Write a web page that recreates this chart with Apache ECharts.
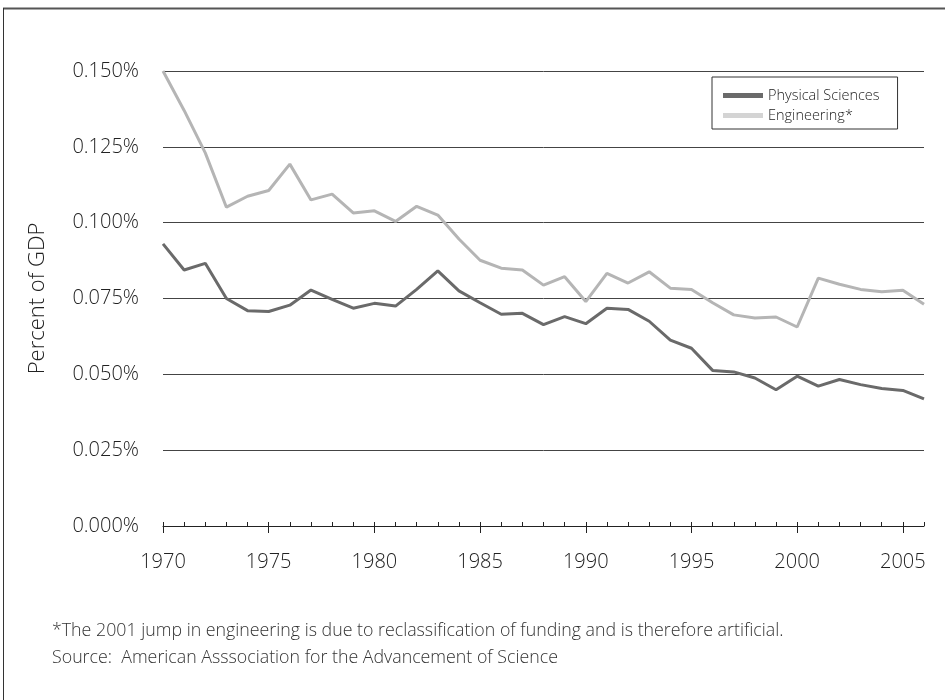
<!DOCTYPE html>
<html><head><meta charset="utf-8">
<script src="https://cdn.jsdelivr.net/npm/echarts@6/dist/echarts.min.js"></script>
<style>html,body{margin:0;padding:0;background:#fff}#c{width:945px;height:700px}</style>
</head><body><div id="c"></div>
<script>
const years = ['1970','1971','1972','1973','1974','1975','1976','1977','1978','1979','1980','1981','1982','1983','1984','1985','1986','1987','1988','1989','1990','1991','1992','1993','1994','1995','1996','1997','1998','1999','2000','2001','2002','2003','2004','2005','2006'];
const physicalSciences = [0.0930,0.0844,0.0866,0.0750,0.0710,0.0707,0.0728,0.0778,0.0747,0.0718,0.0734,0.0725,0.0780,0.0841,0.0775,0.0736,0.0698,0.0701,0.0664,0.0690,0.0667,0.0718,0.0714,0.0675,0.0613,0.0586,0.0513,0.0508,0.0488,0.0449,0.0494,0.0461,0.0483,0.0466,0.0453,0.0447,0.0419];
const engineering = [0.1500,0.1370,0.1230,0.1051,0.1087,0.1106,0.1193,0.1075,0.1094,0.1032,0.1039,0.1004,0.1054,0.1025,0.0946,0.0876,0.0850,0.0844,0.0794,0.0822,0.0740,0.0833,0.0801,0.0838,0.0784,0.0780,0.0736,0.0696,0.0686,0.0689,0.0656,0.0817,0.0797,0.0780,0.0772,0.0777,0.0731];
const yTicks = [0, 0.025, 0.05, 0.075, 0.1, 0.125, 0.15];
const seriesNames = ['Physical Sciences', 'Engineering*'];
const footnotes = ['*The 2001 jump in engineering is due to reclassification of funding and is therefore artificial.', 'Source:  American Asssociation for the Advancement of Science'];

const FONT = '"Open Sans", sans-serif';
const TXT = '#222';
const chart = echarts.init(document.getElementById('c'), null, {renderer: 'canvas'});
const every5 = (i) => i % 5 === 0;
chart.setOption({
  animation: false,
  backgroundColor: '#fff',
  textStyle: {fontFamily: FONT},
  grid: {left: 163, right: 21, top: 71, bottom: 174, containLabel: false},
  legend: {
    orient: 'vertical', left: 712, top: 77,
    padding: [11, 18, 6, 11], itemGap: 5,
    itemWidth: 40, itemHeight: 5, icon: 'rect',
    borderColor: '#333', borderWidth: 1, backgroundColor: '#fff',
    textStyle: {fontFamily: FONT, fontSize: 14.5, color: TXT, fontWeight: 300},
    data: [
      {name: seriesNames[0], itemStyle: {color: '#6a6a6a'}},
      {name: seriesNames[1], itemStyle: {color: '#d4d4d4'}}
    ]
  },
  xAxis: [
    {type: 'category', data: years, boundaryGap: false,
     axisLine: {show: true, lineStyle: {color: '#222', width: 1}},
     axisTick: {show: true, inside: true, length: 4, interval: 0, lineStyle: {color: '#222'}},
     axisLabel: {show: false}, splitLine: {show: false}},
    {type: 'category', data: years, boundaryGap: false, position: 'bottom',
     axisLine: {show: false},
     axisTick: {show: true, inside: false, length: 7, interval: every5, lineStyle: {color: '#222'}},
     axisLabel: {show: true, interval: every5, margin: 26, fontSize: 20, color: TXT, fontFamily: FONT, fontWeight: 300},
     splitLine: {show: false}}
  ],
  yAxis: {
    type: 'value', min: 0, max: 0.15, interval: 0.025,
    name: 'Percent of GDP', nameLocation: 'middle', nameGap: 114, nameRotate: 90,
    nameTextStyle: {fontSize: 22, color: TXT, fontFamily: FONT, fontWeight: 300},
    axisLine: {show: false}, axisTick: {show: false},
    axisLabel: {margin: 24, fontSize: 20, color: TXT, fontFamily: FONT, fontWeight: 300,
      formatter: (v) => v.toFixed(3) + '%'},
    splitLine: {show: true, lineStyle: {color: '#444', width: 1}}
  },
  series: [
    {name: seriesNames[1], type: 'line', data: engineering, xAxisIndex: 0, showSymbol: false, symbol: 'none',
     lineStyle: {color: '#b5b5b5', width: 3}, itemStyle: {color: '#b5b5b5'}, z: 3},
    {name: seriesNames[0], type: 'line', data: physicalSciences, xAxisIndex: 0, showSymbol: false, symbol: 'none',
     lineStyle: {color: '#6a6a6a', width: 3}, itemStyle: {color: '#6a6a6a'}, z: 4}
  ],
  graphic: [
    {type: 'line', shape: {x1: 3, y1: 8.5, x2: 945, y2: 8.5}, style: {stroke: '#555', lineWidth: 2}},
    {type: 'line', shape: {x1: 3.5, y1: 8, x2: 3.5, y2: 700}, style: {stroke: '#333', lineWidth: 1}},
    {type: 'text', left: 52, top: 622, style: {text: footnotes[0], font: '300 17.8px ' + FONT, fill: '#333'}},
    {type: 'text', left: 52, top: 649, style: {text: footnotes[1], font: '300 17.8px ' + FONT, fill: '#333'}}
  ]
});
</script></body></html>
